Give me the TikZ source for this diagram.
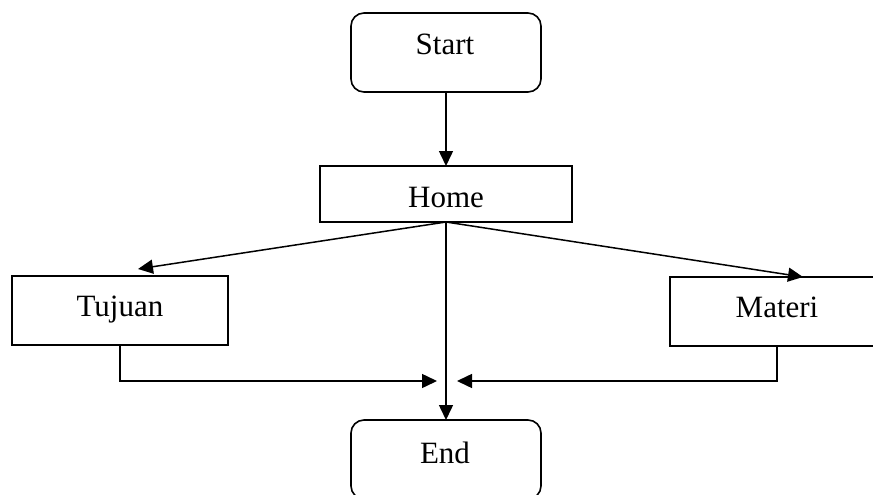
\documentclass[tikz,border=0pt]{standalone}
\usepackage{fontspec}
\setmainfont{Liberation Serif}
\usetikzlibrary{arrows.meta}
\tikzset{
  boxstyle/.style={draw=black, line width=1.6pt, rectangle, inner sep=0pt, outer sep=0pt},
  termstyle/.style={boxstyle, rounded corners=13pt},
  lblstyle/.style={font=\fontsize{31}{36}\selectfont, inner sep=0pt, anchor=base},
  conn/.style={line width=1.5pt, -{Triangle[length=15pt,width=14pt]}},
}
\begin{document}
\begin{tikzpicture}[x=1pt,y=-1pt]
\useasboundingbox (0,0) rectangle (873,495);
\clip (0,0) rectangle (873,495);
% boxes
\node[termstyle, minimum width=190pt, minimum height=79pt] (start) at (446,52.5) {};
\node[boxstyle, minimum width=252pt, minimum height=56pt] (home) at (446,194) {};
\node[boxstyle, minimum width=216pt, minimum height=69pt] (tujuan) at (120,310.5) {};
\node[boxstyle, minimum width=214pt, minimum height=69pt] (materi) at (777,311.5) {};
\node[termstyle, minimum width=190pt, minimum height=79pt] (end) at (446,459.5) {};
% labels
\node[lblstyle] (startlbl) at (445,55) {Start};
\node[lblstyle] (homelbl) at (446,207) {Home};
\node[lblstyle] (tujuanlbl) at (120,316) {Tujuan};
\node[lblstyle] (materilbl) at (777,317) {Materi};
\node[lblstyle] (endlbl) at (445,463) {End};
% connector end points
\coordinate (tujtip) at (138,269);
\coordinate (mattip) at (803,277);
\coordinate (jleft) at (437,381);
\coordinate (jright) at (457,381);
% connectors
\draw[conn] (start.south) -- (home.north);
\draw[conn] (home.south) -- (tujtip);
\draw[conn] (home.south) -- (mattip);
\draw[conn] (home.south) -- (end.north);
\draw[conn] (tujuan.south) |- (jleft);
\draw[conn] (materi.south) |- (jright);
\end{tikzpicture}
\end{document}
